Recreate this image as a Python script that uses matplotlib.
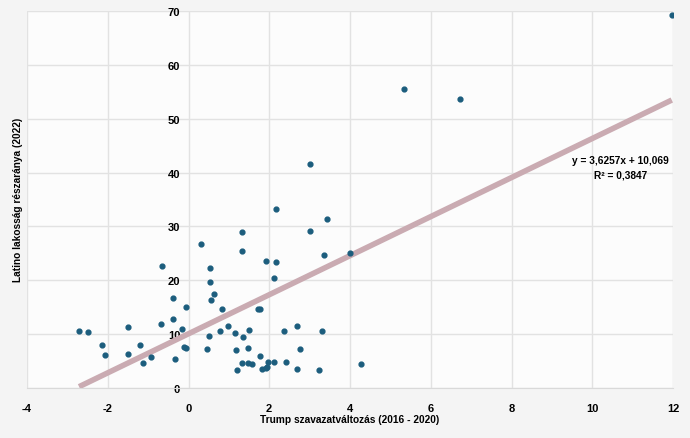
import numpy as np
import matplotlib.pyplot as plt

# Trump vote change (2016 - 2020) vs Latino share of population (2022)
trump_change = [-2.71, -2.48, -2.15, -2.08, -1.49, -1.51, -1.19, -1.13, -0.92, -0.65,
                -0.69, -0.39, -0.38, -0.17, -0.33, -0.12, -0.07, -0.06, 0.32, 0.53,
                0.53, 0.63, 0.56, 0.82, 0.52, 0.47, 0.77, 0.99, 1.15, 1.32,
                1.32, 1.34, 1.51, 1.18, 1.47, 1.32, 1.47, 1.58, 1.20, 1.77,
                1.72, 1.77, 3.01, 2.16, 3.43, 3.01, 3.35, 4.00, 1.92, 2.16,
                2.13, 2.37, 2.69, 3.30, 2.77, 1.97, 2.13, 2.41, 1.83, 1.92,
                1.95, 2.69, 3.24, 4.27, 5.33, 6.72, 11.97]
latino_share = [10.6, 10.4, 8.0, 6.2, 11.3, 6.4, 8.0, 4.7, 5.7, 22.6,
                11.9, 16.8, 12.9, 11.0, 5.4, 7.7, 7.5, 15.1, 26.8, 22.3,
                19.7, 17.4, 16.3, 14.7, 9.6, 7.3, 10.5, 11.6, 10.3, 29.0,
                25.4, 9.4, 10.8, 7.1, 7.4, 4.6, 4.6, 4.4, 3.4, 5.9,
                14.7, 14.7, 41.5, 33.2, 31.4, 29.2, 24.7, 25.0, 23.6, 23.4,
                20.4, 10.6, 11.5, 10.6, 7.2, 4.9, 4.8, 4.8, 3.5, 3.8,
                3.9, 3.5, 3.4, 4.4, 55.5, 53.6, 69.2]

slope = 3.6257
intercept = 10.069

plt.rcParams['font.family'] = ['Liberation Sans Narrow', 'Liberation Sans', 'DejaVu Sans']
plt.rcParams['axes.unicode_minus'] = False

fig = plt.figure(figsize=(6.9, 4.39), dpi=100, facecolor='#f4f4f4')
ax = fig.add_axes([27/690, 1 - 389/439, 646/690, 377/439])
ax.set_facecolor('#fcfcfc')

ax.scatter(trump_change, latino_share, s=12, color='#1c5d7d', zorder=3)

# trendline over data range
x_line = np.array([min(trump_change), max(trump_change)])
ax.plot(x_line, slope * x_line + intercept, color='#caabb2', linewidth=4,
        solid_capstyle='butt', zorder=2)

ax.set_xlim(-4, 12)
ax.set_ylim(0, 70)
ax.set_xticks(range(-4, 13, 2))
ax.set_yticks(range(0, 71, 10))
ax.grid(True, color='#e2e2e2', linewidth=1)
ax.set_axisbelow(True)

for s in ['top', 'right', 'left']:
    ax.spines[s].set_visible(False)
ax.spines['bottom'].set_color('#d9d9d9')
ax.spines['left'].set_position(('data', 0))
ax.tick_params(length=0, labelsize=8)
ax.tick_params(axis='x', pad=11)
ax.tick_params(axis='y', pad=6)
for lbl in ax.get_xticklabels() + ax.get_yticklabels():
    lbl.set_fontweight('bold')

ax.text(10.7, 42.4, 'y = 3,6257x + 10,069', ha='center', va='center',
        fontsize=7.3, fontweight='bold')
ax.text(10.7, 39.6, 'R² = 0,3847', ha='center', va='center',
        fontsize=7.3, fontweight='bold')

fig.text(350/690, 1 - 420/439, 'Trump szavazatváltozás (2016 - 2020)',
         ha='center', va='center', fontsize=7.3, fontweight='bold')
fig.text(18/690, 1 - 200/439, 'Latino lakosság részaránya (2022)',
         ha='center', va='center', rotation=90, fontsize=7.3, fontweight='bold')

fig.savefig('out.png', dpi=100, facecolor=fig.get_facecolor())
